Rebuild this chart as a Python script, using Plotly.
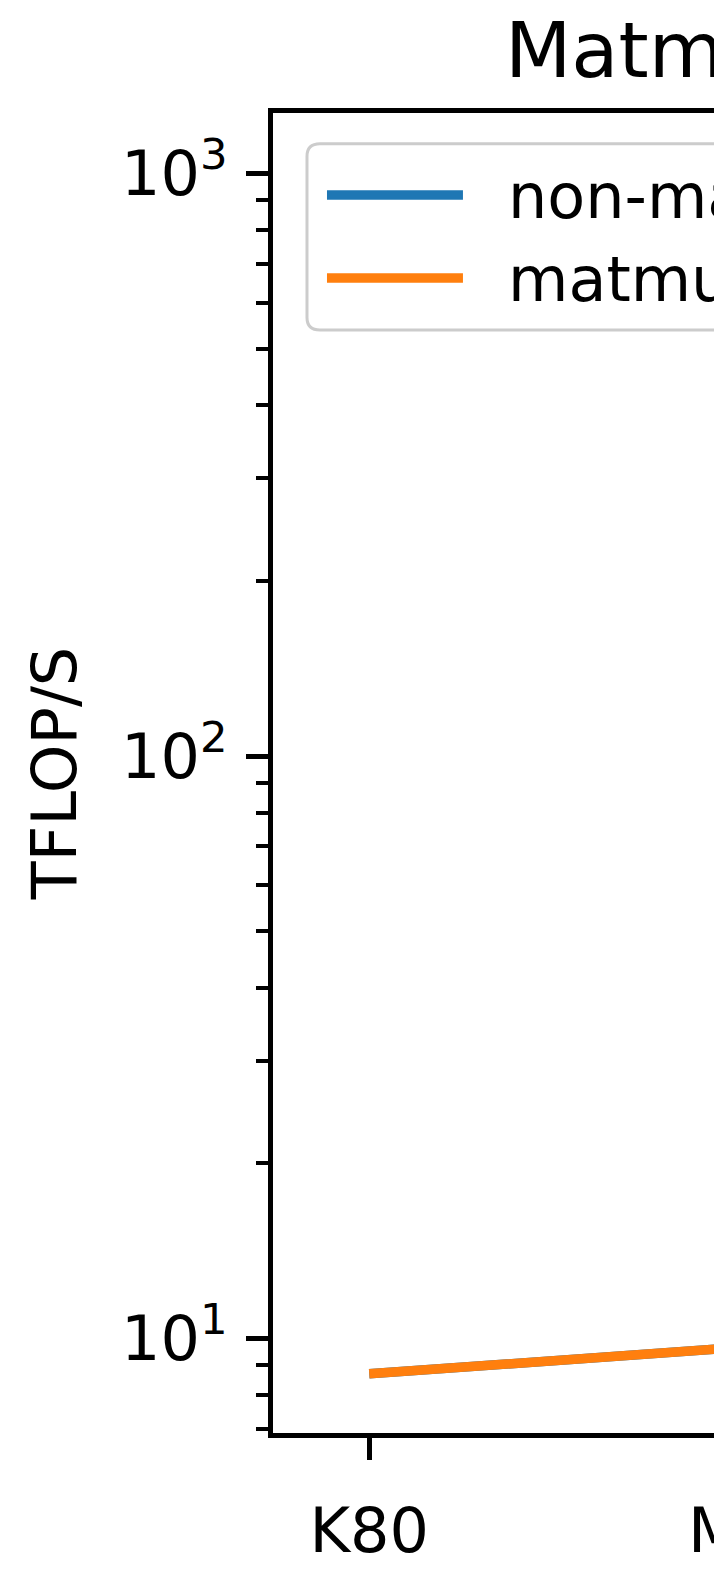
import plotly.graph_objects as go

# ---- data ----
gpus = ["K80", "M60", "P100", "V100", "A100", "H100"]
non_matmul_tflops = [8.7, 9.7, 21.2, 31.4, 78, 134]
matmul_tflops = [8.7, 9.7, 21.2, 125, 312, 989]
series_names = ["non-matmul", "matmul"]
series_colors = ["#1f77b4", "#ff7f0e"]
y_tick_vals = [10, 100, 1000]
y_tick_text = ["10<sup>1</sup>", "10<sup>2</sup>", "10<sup>3</sup>"]
y_minor_vals = [7, 8, 9] + [d * 10 for d in range(2, 10)] + [d * 100 for d in range(2, 10)]
title_text = "Matmul vs non-matmul FLOPS"
y_title = "TFLOP/S"

# ---- geometry (pixels) ----
W, H = 2420, 1579
L, T, B = 273, 113, 97
spacing = 385
PW = spacing * 5.5
R = W - L - PW
PH = H - T - B

FONT = "DejaVu Sans"
FS = 62


def px(x):
    return (x - L) / PW


def py(y):
    return 1 - (y - T) / PH


fig = go.Figure()
for name, vals, col in zip(series_names, [non_matmul_tflops, matmul_tflops], series_colors):
    fig.add_trace(go.Scatter(x=gpus, y=vals, mode="lines", name=name,
                             line=dict(color=col, width=9.5), showlegend=False))

# manual legend (matplotlib-like)
lx0, lx1, ly0, ly1, rad = 307, 905, 145, 338, 13
rx, ry = rad / PW, rad / PH
X0, X1, Y0, Y1 = px(lx0), px(lx1), py(ly0), py(ly1)
path = (f"M {X0+rx},{Y0} L {X1-rx},{Y0} Q {X1},{Y0} {X1},{Y0-ry} "
        f"L {X1},{Y1+ry} Q {X1},{Y1} {X1-rx},{Y1} L {X0+rx},{Y1} "
        f"Q {X0},{Y1} {X0},{Y1+ry} L {X0},{Y0-ry} Q {X0},{Y0} {X0+rx},{Y0} Z")
shapes = [dict(type="path", xref="paper", yref="paper", path=path,
               line=dict(color="rgba(204,204,204,1)", width=3),
               fillcolor="rgba(255,255,255,0.8)", layer="above")]
annotations = []
for i, (name, col) in enumerate(zip(series_names, series_colors)):
    yy = 198 + 86 * i
    shapes.append(dict(type="line", xref="paper", yref="paper",
                       x0=px(327), x1=px(463), y0=py(yy), y1=py(yy),
                       line=dict(color=col, width=9.5), layer="above"))
    annotations.append(dict(text=name, xref="paper", yref="paper", x=px(506), y=py(yy + 2),
                            xanchor="left", yanchor="middle", showarrow=False,
                            font=dict(family=FONT, size=FS, color="black")))

fig.update_layout(
    width=W, height=H,
    margin=dict(l=L, r=R, t=T, b=B, pad=0),
    paper_bgcolor="white", plot_bgcolor="white",
    font=dict(family=FONT, size=FS, color="black"),
    title=dict(text=title_text, x=px(505), xref="paper", xanchor="left",
               y=1 - 50 / H, yref="container", yanchor="middle",
               font=dict(family=FONT, size=77, color="black")),
    shapes=shapes, annotations=annotations,
    showlegend=False,
)
fig.update_xaxes(
    type="category", range=[-0.25, 5.25], showgrid=False, zeroline=False,
    showline=True, linecolor="black", linewidth=5, mirror=True,
    ticks="outside", ticklen=22, tickwidth=5, tickcolor="black",
    ticklabelstandoff=18, tickfont=dict(family=FONT, size=FS, color="black"),
)
fig.update_yaxes(
    type="log", range=[0.838, 3.104], showgrid=False, zeroline=False,
    showline=True, linecolor="black", linewidth=5, mirror=True,
    tickvals=y_tick_vals, ticktext=y_tick_text,
    ticks="outside", ticklen=22, tickwidth=5, tickcolor="black",
    ticklabelstandoff=6, tickfont=dict(family=FONT, size=FS, color="black"),
    minor=dict(tickvals=y_minor_vals, ticks="outside", ticklen=12, tickwidth=4,
               tickcolor="black", showgrid=False),
    title=dict(text=y_title, standoff=26, font=dict(family=FONT, size=FS, color="black")),
)

fig.write_html("out.html", post_script="document.body.style.margin='0px';")
